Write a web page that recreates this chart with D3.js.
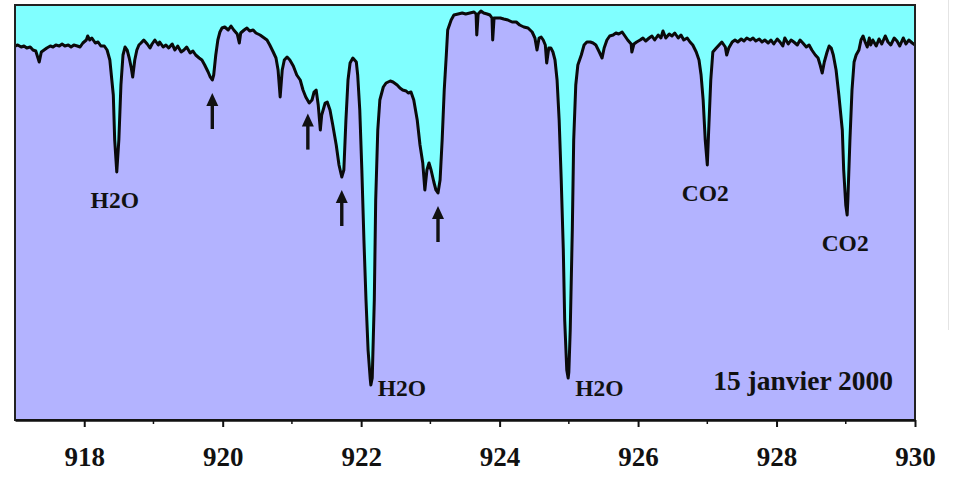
<!DOCTYPE html>
<html>
<head>
<meta charset="utf-8">
<script src="https://cdn.jsdelivr.net/npm/d3@7/dist/d3.min.js"></script>
<style>
  html, body { margin: 0; padding: 0; background: #ffffff; }
  svg { display: block; }
  text { font-family: "Liberation Serif", "Times New Roman", serif; font-weight: bold; fill: #111; }
</style>
</head>
<body>
<svg id="chart" width="955" height="477"></svg>
<script>
// Transmission spectrum, 917-930 cm-1 (arbitrary intensity units)
const wavenumber = [
  917.00,917.04,917.09,917.13,917.17,917.22,917.26,917.30,917.35,917.38,917.42,917.46,917.51,917.55,917.59,917.64,
  917.68,917.72,917.77,917.81,917.85,917.90,917.94,917.98,918.03,918.05,918.08,918.11,918.16,918.20,918.24,918.29,
  918.33,918.37,918.42,918.44,918.47,918.50,918.53,918.56,918.59,918.62,918.65,918.68,918.70,918.73,918.76,918.79,
  918.82,918.86,918.91,918.95,918.98,919.02,919.07,919.09,919.14,919.18,919.22,919.27,919.31,919.35,919.40,919.44,
  919.48,919.53,919.57,919.61,919.66,919.70,919.74,919.79,919.82,919.85,919.87,919.90,919.93,919.96,919.99,920.03,
  920.08,920.12,920.16,920.21,920.24,920.26,920.31,920.35,920.39,920.44,920.48,920.54,920.60,920.64,920.68,920.73,
  920.77,920.80,920.83,920.86,920.89,920.93,920.97,921.02,921.07,921.12,921.16,921.20,921.25,921.29,921.32,921.35,
  921.38,921.41,921.43,921.48,921.51,921.55,921.59,921.64,921.68,921.72,921.75,921.78,921.81,921.84,921.88,921.93,
  921.95,921.98,922.01,922.04,922.07,922.10,922.13,922.14,922.16,922.19,922.21,922.24,922.27,922.32,922.36,922.42,
  922.46,922.52,922.56,922.60,922.65,922.68,922.72,922.76,922.81,922.85,922.89,922.92,922.95,922.98,923.01,923.05,
  923.08,923.11,923.14,923.17,923.20,923.23,923.25,923.30,923.34,923.40,923.46,923.51,923.57,923.63,923.66,923.67,
  923.69,923.73,923.77,923.82,923.86,923.89,923.90,923.92,923.96,924.01,924.06,924.12,924.18,924.24,924.29,924.35,
  924.41,924.47,924.51,924.54,924.57,924.60,924.63,924.66,924.68,924.71,924.74,924.77,924.80,924.83,924.86,924.89,
  924.92,924.94,924.97,924.99,925.00,925.02,925.05,925.07,925.10,925.13,925.18,925.22,925.26,925.31,925.35,925.39,
  925.44,925.48,925.51,925.55,925.59,925.64,925.68,925.72,925.77,925.81,925.85,925.90,925.91,925.94,925.98,926.03,
  926.07,926.11,926.16,926.20,926.24,926.29,926.33,926.36,926.40,926.45,926.49,926.53,926.58,926.62,926.66,926.71,
  926.75,926.79,926.84,926.88,926.91,926.94,926.97,927.00,927.02,927.05,927.08,927.13,927.17,927.21,927.26,927.28,
  927.31,927.36,927.40,927.44,927.49,927.53,927.57,927.62,927.66,927.70,927.75,927.79,927.83,927.88,927.92,927.96,
  928.01,928.05,928.09,928.12,928.17,928.21,928.25,928.30,928.34,928.38,928.43,928.47,928.51,928.56,928.60,928.63,
  928.66,928.69,928.73,928.76,928.79,928.82,928.86,928.90,928.95,928.97,929.00,929.02,929.03,929.06,929.09,929.12,
  929.15,929.19,929.22,929.25,929.28,929.31,929.34,929.36,929.39,929.44,929.48,929.52,929.57,929.61,929.65,929.70,
  929.74,929.78,929.83,929.87,929.91,929.96,930.00
];
const signal = [
  374,375,373,374,372,373,370,369,358,368,370,372,374,373,375,374,
  376,374,375,373,375,374,373,377,380,384,380,382,377,378,374,374,
  370,360,325,280,248,280,335,365,373,370,362,352,343,360,370,375,
  377,380,376,372,376,380,375,378,373,375,372,376,370,374,368,370,
  373,367,369,365,362,360,355,348,343,340,345,365,380,388,392,393,
  390,394,390,386,377,387,390,392,389,390,387,385,382,380,375,368,
  362,350,323,350,360,363,360,354,345,340,330,323,317,320,328,330,
  315,290,305,317,318,310,295,275,255,243,250,300,340,357,362,358,
  345,310,250,180,120,70,42,35,42,120,220,290,320,333,337,339,
  338,335,332,330,329,327,328,320,300,275,257,230,250,257,250,238,
  230,227,240,280,330,365,390,400,405,406,407,406,407,408,406,385,
  406,409,407,406,405,402,380,402,402,402,401,400,398,398,395,393,
  392,388,382,370,382,383,380,375,357,372,372,368,360,340,300,240,
  170,100,50,42,48,90,190,280,335,355,365,375,378,378,377,375,
  368,362,372,380,384,385,387,386,388,384,380,376,368,376,378,380,
  382,379,382,384,380,385,382,389,382,386,384,387,382,385,380,382,
  378,375,368,360,345,320,280,255,290,340,368,372,375,378,373,365,
  372,378,380,378,381,379,382,380,382,379,381,378,380,377,380,376,
  381,378,374,382,376,380,378,375,380,377,373,375,370,365,362,355,
  347,358,368,374,372,365,350,325,290,250,215,205,220,280,330,358,
  365,370,380,384,378,373,382,375,380,374,381,376,384,378,375,382,
  379,374,382,376,380,377,375
];

// Absorption line identifications
const lineLabels = ["H2O", "H2O", "H2O", "CO2", "CO2"];
const lineWavenumbers = [918.47, 922.14, 924.99, 927.00, 929.02];

// Weaker features flagged with arrows
const arrowWavenumbers = [919.85, 921.23, 921.72, 923.11];

const xTicks = [918, 920, 922, 924, 926, 928, 930];
const xMinorTicks = [919, 921, 923, 925, 927, 929];
const dateLabel = "15 janvier 2000";

const svg = d3.select("#chart");
const plot = { left: 15, right: 915, top: 5, bottom: 420 };

const x = d3.scaleLinear().domain([917, 930]).range([plot.left, plot.right]);
const y = d3.scaleLinear().domain([0, 415]).range([plot.bottom, plot.top]);

const pts = wavenumber.map((w, i) => [w, signal[i]]);

// faint separator at the right margin
svg.append("line")
  .attr("x1", 948.5).attr("x2", 948.5).attr("y1", 0).attr("y2", 330)
  .attr("stroke", "#e4e4e4").attr("stroke-width", 1);

// plot background (transmitted region)
svg.append("rect")
  .attr("x", plot.left).attr("y", plot.top)
  .attr("width", plot.right - plot.left).attr("height", plot.bottom - plot.top)
  .attr("fill", "#80ffff");

// absorbed region under the spectrum
const area = d3.area()
  .x(d => x(d[0]))
  .y0(y(0))
  .y1(d => y(d[1]));
svg.append("path").datum(pts)
  .attr("d", area)
  .attr("fill", "#b3b3ff");

// spectrum trace
const line = d3.line().x(d => x(d[0])).y(d => y(d[1]));
svg.append("path").datum(pts)
  .attr("d", line)
  .attr("fill", "none")
  .attr("stroke", "#0a0a0a")
  .attr("stroke-width", 3)
  .attr("stroke-linejoin", "round");

// frame
svg.append("rect")
  .attr("x", plot.left).attr("y", plot.top)
  .attr("width", plot.right - plot.left).attr("height", plot.bottom - plot.top)
  .attr("fill", "none")
  .attr("stroke", "#222")
  .attr("stroke-width", 2);

// x axis
const axis = svg.append("g")
  .attr("transform", `translate(0,${plot.bottom})`)
  .call(d3.axisBottom(x).tickValues(xTicks).tickFormat(d3.format("d"))
    .tickSize(7).tickPadding(20).tickSizeOuter(0));
axis.select(".domain").attr("stroke", "#111").attr("stroke-width", 2.5);
axis.selectAll(".tick line").attr("stroke", "#111").attr("stroke-width", 2);
axis.selectAll(".tick text")
  .attr("font-size", 27)
  .attr("font-family", "Liberation Serif, Times New Roman, serif")
  .attr("font-weight", "bold")
  .attr("fill", "#111");

svg.append("g").selectAll("line").data(xMinorTicks).join("line")
  .attr("x1", d => x(d)).attr("x2", d => x(d))
  .attr("y1", plot.bottom).attr("y2", plot.bottom + 4)
  .attr("stroke", "#111").attr("stroke-width", 1.5);

// value of the spectrum at a given wavenumber
const bis = d3.bisector(d => d[0]).left;
function valueAt(w) {
  const i = Math.max(1, Math.min(pts.length - 1, bis(pts, w)));
  const a = pts[i - 1], b = pts[i];
  const t = (w - a[0]) / (b[0] - a[0]);
  return a[1] + t * (b[1] - a[1]);
}
function lineMinimum(w) {
  const near = pts.filter(p => Math.abs(p[0] - w) <= 0.04);
  return d3.min(near, p => p[1]);
}

// line labels
lineLabels.forEach((txt, i) => {
  const w = lineWavenumbers[i];
  const py = y(lineMinimum(w));
  const deep = py > plot.bottom - 60;
  svg.append("text")
    .attr("x", deep ? x(w) + 7 : x(w) - 2)
    .attr("y", deep ? plot.bottom - 24 : py + 36)
    .attr("text-anchor", deep ? "start" : "middle")
    .attr("font-size", 23.5)
    .text(txt);
});

// arrows under the weak features
const arrows = svg.append("g");
arrowWavenumbers.forEach(w => {
  const ax = x(w);
  const tip = y(valueAt(w)) + 13;
  arrows.append("line")
    .attr("x1", ax).attr("x2", ax)
    .attr("y1", tip + 8).attr("y2", tip + 36)
    .attr("stroke", "#111").attr("stroke-width", 3.4);
  arrows.append("path")
    .attr("d", `M${ax},${tip} L${ax - 6},${tip + 13} L${ax + 6},${tip + 13} Z`)
    .attr("fill", "#111");
});

// date
svg.append("text")
  .attr("x", plot.right - 22)
  .attr("y", plot.bottom - 30)
  .attr("text-anchor", "end")
  .attr("font-size", 27.5)
  .text(dateLabel);
</script>
</body>
</html>
